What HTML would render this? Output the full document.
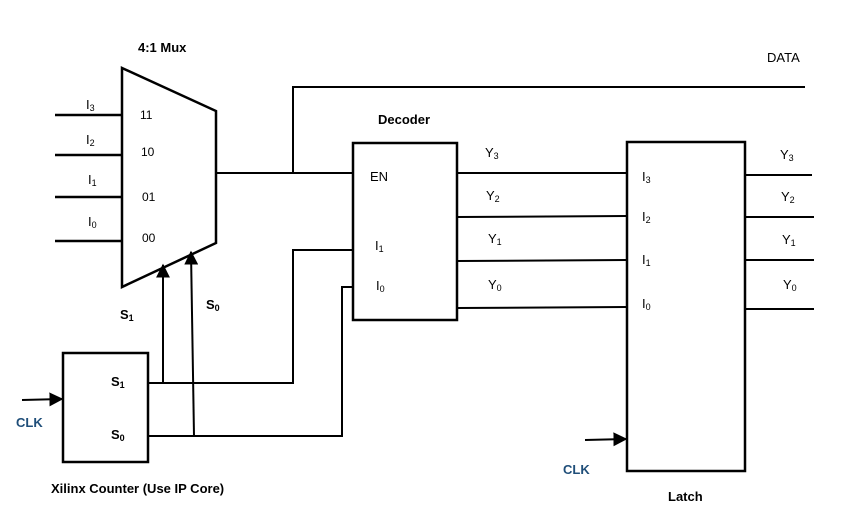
<!DOCTYPE html>
<html><head><meta charset="utf-8"><style>
html,body{margin:0;padding:0;background:#fff;width:852px;height:523px;overflow:hidden}
svg{display:block}
text{font-family:"Liberation Sans",sans-serif;fill:#000}
.b{font-weight:bold}
.s{font-size:13px}
.clk{fill:#1f4e79;font-weight:bold;font-size:13px}
</style></head><body>
<svg width="852" height="523" viewBox="0 0 852 523">
<defs><marker id="a" viewBox="0 0 10 10" refX="9" refY="5" markerWidth="7" markerHeight="7" orient="auto"><path d="M0,0 L10,5 L0,10 z" fill="#000"/></marker></defs>
<g stroke="#000" fill="none" stroke-width="2.5">
<polygon points="122,68 216,111 216,243 122,287" />
<line x1="55" y1="115" x2="122" y2="115"/>
<line x1="55" y1="155" x2="122" y2="155"/>
<line x1="55" y1="197" x2="122" y2="197"/>
<line x1="55" y1="241" x2="122" y2="241"/>
<rect x="353" y="143" width="104" height="177"/>
<rect x="63" y="353" width="85" height="109"/>
<rect x="627" y="142" width="118" height="329"/>
</g>
<g stroke="#000" fill="none" stroke-width="2">
<polyline points="216,173 353,173"/>
<polyline points="293,173 293,87 805,87"/>
<polyline points="148,383 293,383 293,250 353,250"/>
<polyline points="148,436 342,436 342,287 353,287"/>
<line x1="163" y1="383" x2="163" y2="265" marker-end="url(#a)"/>
<line x1="194" y1="436" x2="191" y2="252" marker-end="url(#a)"/>
<line x1="22" y1="400" x2="62" y2="399" marker-end="url(#a)"/>
<line x1="585" y1="440" x2="626" y2="439" marker-end="url(#a)"/>
<line x1="457" y1="173" x2="627" y2="173"/>
<line x1="457" y1="217" x2="627" y2="216"/>
<line x1="457" y1="261" x2="627" y2="260"/>
<line x1="457" y1="308" x2="627" y2="307"/>
<line x1="745" y1="175" x2="812" y2="175"/>
<line x1="745" y1="217" x2="814" y2="217"/>
<line x1="745" y1="260" x2="814" y2="260"/>
<line x1="745" y1="309" x2="814" y2="309"/>
</g>
<text x="138" y="52" class="b s">4:1 Mux</text>
<text x="767" y="62" class="s">DATA</text>
<text x="378" y="124" class="b s">Decoder</text>
<text x="86" y="109" class="s">I<tspan font-size="9" dy="2">3</tspan></text>
<text x="86" y="144" class="s">I<tspan font-size="9" dy="2">2</tspan></text>
<text x="88" y="184" class="s">I<tspan font-size="9" dy="2">1</tspan></text>
<text x="88" y="226" class="s">I<tspan font-size="9" dy="2">0</tspan></text>
<text x="140" y="119" font-size="12">11</text>
<text x="141" y="156" font-size="12">10</text>
<text x="142" y="201" font-size="12">01</text>
<text x="142" y="242" font-size="12">00</text>
<text x="120" y="319" class="b s">S<tspan font-size="9" dy="2">1</tspan></text>
<text x="206" y="309" class="b s">S<tspan font-size="9" dy="2">0</tspan></text>
<text x="111" y="386" class="b s">S<tspan font-size="9" dy="2">1</tspan></text>
<text x="111" y="439" class="b s">S<tspan font-size="9" dy="2">0</tspan></text>
<text x="16" y="427" class="clk">CLK</text>
<text x="563" y="474" class="clk">CLK</text>
<text x="51" y="493" class="b s">Xilinx Counter (Use IP Core)</text>
<text x="668" y="501" class="b s">Latch</text>
<text x="370" y="181" class="s">EN</text>
<text x="375" y="250" class="s">I<tspan font-size="9" dy="2">1</tspan></text>
<text x="376" y="290" class="s">I<tspan font-size="9" dy="2">0</tspan></text>
<text x="485" y="157" class="s">Y<tspan font-size="9" dy="2">3</tspan></text>
<text x="486" y="200" class="s">Y<tspan font-size="9" dy="2">2</tspan></text>
<text x="488" y="243" class="s">Y<tspan font-size="9" dy="2">1</tspan></text>
<text x="488" y="289" class="s">Y<tspan font-size="9" dy="2">0</tspan></text>
<text x="642" y="181" class="s">I<tspan font-size="9" dy="2">3</tspan></text>
<text x="642" y="221" class="s">I<tspan font-size="9" dy="2">2</tspan></text>
<text x="642" y="264" class="s">I<tspan font-size="9" dy="2">1</tspan></text>
<text x="642" y="308" class="s">I<tspan font-size="9" dy="2">0</tspan></text>
<text x="780" y="159" class="s">Y<tspan font-size="9" dy="2">3</tspan></text>
<text x="781" y="201" class="s">Y<tspan font-size="9" dy="2">2</tspan></text>
<text x="782" y="244" class="s">Y<tspan font-size="9" dy="2">1</tspan></text>
<text x="783" y="289" class="s">Y<tspan font-size="9" dy="2">0</tspan></text>
</svg>
</body></html>
